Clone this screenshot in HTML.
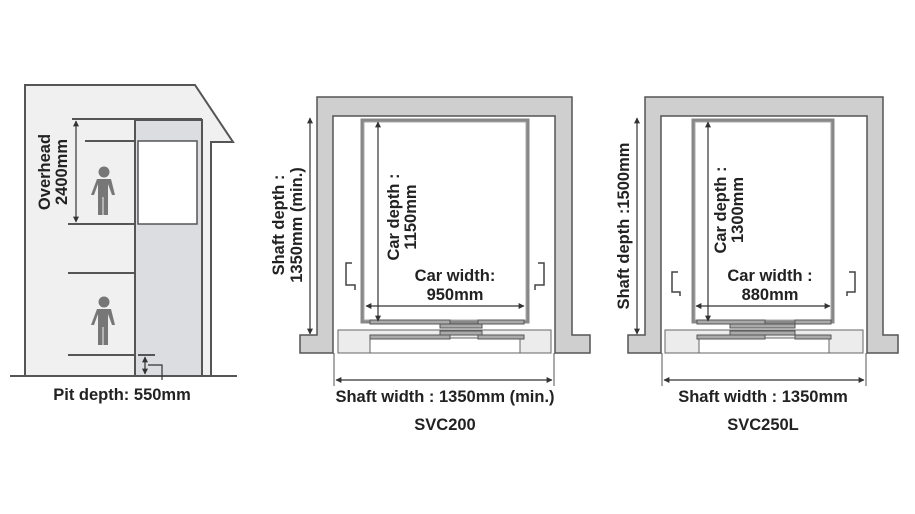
<!DOCTYPE html>
<html><head><style>
html,body{margin:0;padding:0;background:#fff;}
svg{display:block;}
text{font-family:"Liberation Sans",sans-serif;font-weight:bold;fill:#222;font-size:16.5px;}
</style></head><body>
<svg width="915" height="514" viewBox="0 0 915 514" xmlns="http://www.w3.org/2000/svg">
<defs>
<marker id="a" viewBox="0 0 10 10" refX="9" refY="5" markerWidth="5" markerHeight="5" orient="auto-start-reverse"><path d="M0,0 L10,5 L0,10 z" fill="#333"/></marker>
<g id="person" fill="#777">
<circle cx="0" cy="0" r="5.5"/>
<path d="M-7,7 h14 l4,16 h-3 l-4,-11 v31 h-4.5 v-18 h-1 v18 h-4.5 v-31 l-4,11 h-3 z"/>
</g>
</defs>
<!-- LEFT BUILDING -->
<path d="M25,376 V85 H195 L233,142 H211 V376" fill="#f0f0f0" stroke="#555" stroke-width="2"/>
<rect x="135" y="120" width="67" height="256" fill="#dcdde0" stroke="#555" stroke-width="2"/>
<rect x="138" y="141" width="59" height="83" fill="#fff" stroke="#555" stroke-width="1.5"/>
<g stroke="#555" stroke-width="2">
<line x1="72" y1="119" x2="202" y2="119"/>
<line x1="85" y1="141" x2="135" y2="141"/>
<line x1="68" y1="224" x2="135" y2="224"/>
<line x1="68" y1="273" x2="135" y2="273"/>
<line x1="68" y1="355" x2="135" y2="355"/>
<line x1="138" y1="355" x2="155" y2="355"/>
<line x1="10" y1="376" x2="237" y2="376"/>
</g>
<line x1="76" y1="121" x2="76" y2="222" stroke="#333" stroke-width="1.2" marker-start="url(#a)" marker-end="url(#a)"/>
<line x1="145" y1="357" x2="145" y2="374" stroke="#333" stroke-width="1.2" marker-start="url(#a)" marker-end="url(#a)"/>
<path d="M148,365 H162 V380" fill="none" stroke="#333" stroke-width="1.2"/>
<use href="#person" x="104" y="172"/>
<use href="#person" x="104" y="302"/>
<text transform="translate(50,172) rotate(-90)" text-anchor="middle">Overhead</text>
<text transform="translate(67,172) rotate(-90)" text-anchor="middle">2400mm</text>
<text x="122" y="400" text-anchor="middle">Pit depth: 550mm</text>

<!-- SVC200 -->
<path d="M300,353 V335 H317 V97 H572 V335 H590 V353 H555 V116 H333 V353 Z" fill="#cfcfcf" stroke="#555" stroke-width="1.5"/>
<rect x="362" y="120" width="166" height="202" fill="none" stroke="#888" stroke-width="3"/>
<rect x="364" y="122" width="162" height="198" fill="#fff" stroke="#aaa" stroke-width="1"/>
<rect x="338" y="330" width="213" height="23" fill="#ececec" stroke="#666" stroke-width="1"/>
<rect x="370" y="338" width="150" height="15" fill="#fff" stroke="#666" stroke-width="1"/>
<g fill="#aaa" stroke="#555" stroke-width="1">
<rect x="370" y="320" width="80" height="4"/><rect x="440" y="324" width="42" height="4"/><rect x="478" y="320" width="46" height="4"/>
<rect x="370" y="335" width="80" height="4"/><rect x="440" y="331" width="42" height="4"/><rect x="478" y="335" width="46" height="4"/>
</g>
<path d="M352,263 H346 V285 H355 V290" fill="none" stroke="#444" stroke-width="1.5"/>
<path d="M538,263 H544 V285 H535 V290" fill="none" stroke="#444" stroke-width="1.5"/>
<line x1="310" y1="118" x2="310" y2="334" stroke="#333" stroke-width="1.2" marker-start="url(#a)" marker-end="url(#a)"/>
<line x1="378" y1="122" x2="378" y2="321" stroke="#333" stroke-width="1.2" marker-start="url(#a)" marker-end="url(#a)"/>
<line x1="366" y1="306" x2="524" y2="306" stroke="#333" stroke-width="1.2" marker-start="url(#a)" marker-end="url(#a)"/>
<line x1="334" y1="353" x2="334" y2="386" stroke="#555"/><line x1="554" y1="353" x2="554" y2="386" stroke="#555"/>
<line x1="336" y1="380" x2="552" y2="380" stroke="#333" stroke-width="1.2" marker-start="url(#a)" marker-end="url(#a)"/>
<text transform="translate(284,225) rotate(-90)" text-anchor="middle">Shaft depth :</text>
<text transform="translate(302,225) rotate(-90)" text-anchor="middle">1350mm (min.)</text>
<text transform="translate(399,217) rotate(-90)" text-anchor="middle">Car depth :</text>
<text transform="translate(416,217) rotate(-90)" text-anchor="middle">1150mm</text>
<text x="455" y="281" text-anchor="middle">Car width:</text>
<text x="455" y="300" text-anchor="middle">950mm</text>
<text x="445" y="402" text-anchor="middle">Shaft width : 1350mm (min.)</text>
<text x="445" y="430" text-anchor="middle">SVC200</text>

<!-- SVC250L -->
<path d="M628,353 V335 H645 V97 H883 V335 H898 V353 H867 V116 H661 V353 Z" fill="#cfcfcf" stroke="#555" stroke-width="1.5"/>
<rect x="693" y="120" width="140" height="202" fill="none" stroke="#888" stroke-width="3"/>
<rect x="695" y="122" width="136" height="198" fill="#fff" stroke="#aaa" stroke-width="1"/>
<rect x="665" y="330" width="198" height="23" fill="#ececec" stroke="#666" stroke-width="1"/>
<rect x="699" y="338" width="130" height="15" fill="#fff" stroke="#666" stroke-width="1"/>
<g fill="#aaa" stroke="#555" stroke-width="1">
<rect x="697" y="320" width="68" height="4"/><rect x="730" y="324" width="65" height="4"/><rect x="795" y="320" width="36" height="4"/>
<rect x="697" y="335" width="68" height="4"/><rect x="730" y="331" width="65" height="4"/><rect x="795" y="335" width="36" height="4"/>
</g>
<path d="M678,272 H672 V292 H680 V296" fill="none" stroke="#444" stroke-width="1.5"/>
<path d="M849,272 H855 V292 H847 V296" fill="none" stroke="#444" stroke-width="1.5"/>
<line x1="637" y1="118" x2="637" y2="334" stroke="#333" stroke-width="1.2" marker-start="url(#a)" marker-end="url(#a)"/>
<line x1="708" y1="122" x2="708" y2="321" stroke="#333" stroke-width="1.2" marker-start="url(#a)" marker-end="url(#a)"/>
<line x1="696" y1="306" x2="830" y2="306" stroke="#333" stroke-width="1.2" marker-start="url(#a)" marker-end="url(#a)"/>
<line x1="662" y1="353" x2="662" y2="386" stroke="#555"/><line x1="866" y1="353" x2="866" y2="386" stroke="#555"/>
<line x1="664" y1="380" x2="864" y2="380" stroke="#333" stroke-width="1.2" marker-start="url(#a)" marker-end="url(#a)"/>
<text transform="translate(629,226) rotate(-90)" text-anchor="middle">Shaft depth :1500mm</text>
<text transform="translate(726,210) rotate(-90)" text-anchor="middle">Car depth :</text>
<text transform="translate(743,210) rotate(-90)" text-anchor="middle">1300mm</text>
<text x="770" y="281" text-anchor="middle">Car width :</text>
<text x="770" y="300" text-anchor="middle">880mm</text>
<text x="763" y="402" text-anchor="middle">Shaft width : 1350mm</text>
<text x="763" y="430" text-anchor="middle">SVC250L</text>
</svg>
</body></html>
